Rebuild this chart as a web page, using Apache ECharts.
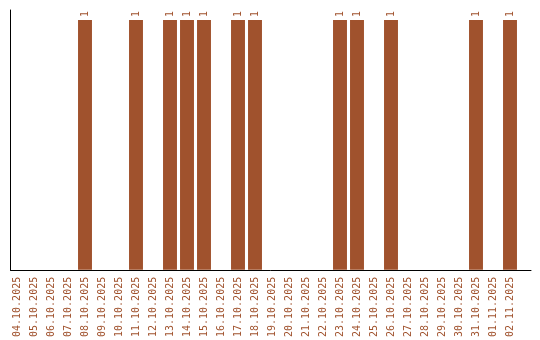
<!DOCTYPE html>
<html><head><meta charset="utf-8">
<script src="https://cdn.jsdelivr.net/npm/echarts@6/dist/echarts.min.js"></script>
<style>html,body{margin:0;padding:0;background:#fff}#c{width:540px;height:340px}</style>
</head><body><div id="c"></div>
<script>
const categories = ['04.10.2025','05.10.2025','06.10.2025','07.10.2025','08.10.2025','09.10.2025','10.10.2025','11.10.2025','12.10.2025','13.10.2025','14.10.2025','15.10.2025','16.10.2025','17.10.2025','18.10.2025','19.10.2025','20.10.2025','21.10.2025','22.10.2025','23.10.2025','24.10.2025','25.10.2025','26.10.2025','27.10.2025','28.10.2025','29.10.2025','30.10.2025','31.10.2025','01.11.2025','02.11.2025'];
const values = [0,0,0,0,1,0,0,1,0,1,1,1,0,1,1,0,0,0,0,1,1,0,1,0,0,0,0,1,0,1];
const color = '#a0522d';
const font = 'DejaVu Sans Mono';
const chart = echarts.init(document.getElementById('c'), null, {renderer:'canvas'});
chart.setOption({
  animation:false,
  grid:[
    {left:8.5, right:21.5, top:20, bottom:70},
    {left:10.5, right:9, top:10, bottom:70}
  ],
  xAxis:[
    {type:'category', gridIndex:0, data:categories,
     axisLine:{show:false}, axisTick:{show:false},
     axisLabel:{interval:0, rotate:90, color:color, fontFamily:font, fontSize:10, margin:7}},
    {type:'value', gridIndex:1, min:0, max:1,
     axisLine:{show:true, lineStyle:{color:'#000', width:1}}, axisTick:{show:false},
     axisLabel:{show:false}, splitLine:{show:false}}
  ],
  yAxis:[
    {type:'value', gridIndex:0, min:0, max:1,
     axisLine:{show:false}, axisTick:{show:false}, axisLabel:{show:false}, splitLine:{show:false}},
    {type:'value', gridIndex:1, min:0, max:1,
     axisLine:{show:true, lineStyle:{color:'#000', width:1}}, axisTick:{show:false},
     axisLabel:{show:false}, splitLine:{show:false}}
  ],
  series:[{
    type:'bar', xAxisIndex:0, yAxisIndex:0, data:values,
    barCategoryGap:'18%',
    itemStyle:{color:color},
    label:{show:true, position:'top', rotate:90, align:'left', verticalAlign:'middle',
      distance:3, color:color, fontFamily:font, fontSize:10,
      formatter:p => p.value ? String(p.value) : ''}
  }]
});
</script></body></html>
